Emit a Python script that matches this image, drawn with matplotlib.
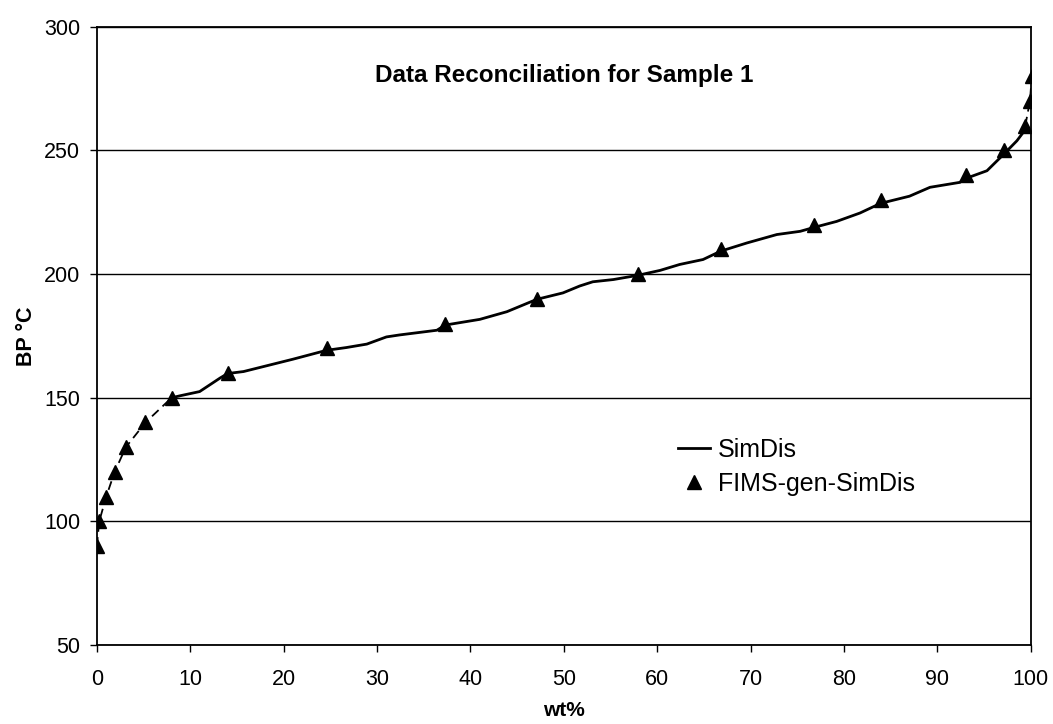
import numpy as np
import matplotlib.pyplot as plt

plt.rcParams['font.family'] = ['Liberation Sans', 'DejaVu Sans']

# SimDis curve (wt%, BP degC)
simdis_wt = [8.0, 8.9, 11.0, 13.2, 14.0, 15.7, 21.0, 24.6, 26.7, 28.9, 31.0, 32.4,
             36.4, 37.3, 38.9, 41.0, 43.9, 47.1, 49.9, 51.7, 53.1, 55.3, 57.9,
             60.3, 62.4, 64.9, 66.8, 69.6, 72.8, 75.3, 76.8, 79.2, 81.7, 83.9,
             87.0, 89.2, 92.4, 92.9, 95.3, 97.1, 98.5, 99.4]
simdis_bp = [150, 150.8, 152.5, 158, 159.8, 160.6, 165.6, 169.2, 170.3, 171.7, 174.6, 175.4,
             177.3, 179.4, 180.4, 181.7, 184.8, 189.8, 192.4, 195.2, 196.9, 197.8, 199.5,
             201.5, 203.9, 205.9, 209.3, 212.6, 216.0, 217.3, 218.9, 221.3, 224.7, 228.6,
             231.5, 235.1, 237.1, 238.5, 241.8, 248.5, 253.9, 258.4]

# FIMS-generated SimDis points
fims_wt = [0.0, 0.25, 1.0, 1.9, 3.1, 5.2, 8.0, 14.0, 24.6, 37.3, 47.1, 57.9,
           66.8, 76.8, 83.9, 93.0, 97.1, 99.4, 99.9, 100.1]
fims_bp = [90, 100, 110, 120, 130, 140, 150, 160, 170, 180, 190, 200,
           210, 220, 230, 240, 250, 260, 270, 280]

fig = plt.figure(figsize=(10.53, 7.24), dpi=100)
ax = fig.add_axes([0.092, 0.109, 0.887, 0.854])

# dashed joins only show where the SimDis curve is absent
ax.plot(fims_wt[:7], fims_bp[:7], color='black', lw=1.3, ls=(0, (5, 3)), zorder=2)
ax.plot(fims_wt[-3:], fims_bp[-3:], color='black', lw=1.3, ls=(0, (5, 3)), zorder=2)
ax.plot(simdis_wt, simdis_bp, color='black', lw=2.0, zorder=3, label='SimDis')
ax.plot(fims_wt, fims_bp, ls='none', marker='^', ms=10, color='black',
        zorder=4, label='FIMS-gen-SimDis')

ax.set_xlim(0, 100)
ax.set_ylim(50, 300)
ax.set_xticks(np.arange(0, 101, 10))
ax.set_yticks(np.arange(50, 301, 50))
ax.yaxis.grid(True, color='black', lw=1.0)
ax.set_axisbelow(True)
for s in ax.spines.values():
    s.set_linewidth(1.3)
ax.tick_params(direction='out', length=5, width=1, labelsize=15.5)
ax.tick_params(axis='x', pad=12)
ax.tick_params(axis='y', pad=7)

ax.set_xlabel('wt%', fontsize=15, fontweight='bold', labelpad=8)
ax.set_ylabel('BP \u00b0C', fontsize=15.5, fontweight='bold', labelpad=5)
ax.text(0.5, 0.922, 'Data Reconciliation for Sample 1', transform=ax.transAxes,
        ha='center', va='center', fontsize=17.5, fontweight='bold')

ax.legend(loc='upper left', bbox_to_anchor=(0.598, 0.371), frameon=False,
          fontsize=18, handlelength=1.3, handletextpad=0.3, labelspacing=0.4)

fig.savefig('out.png', dpi=100)
